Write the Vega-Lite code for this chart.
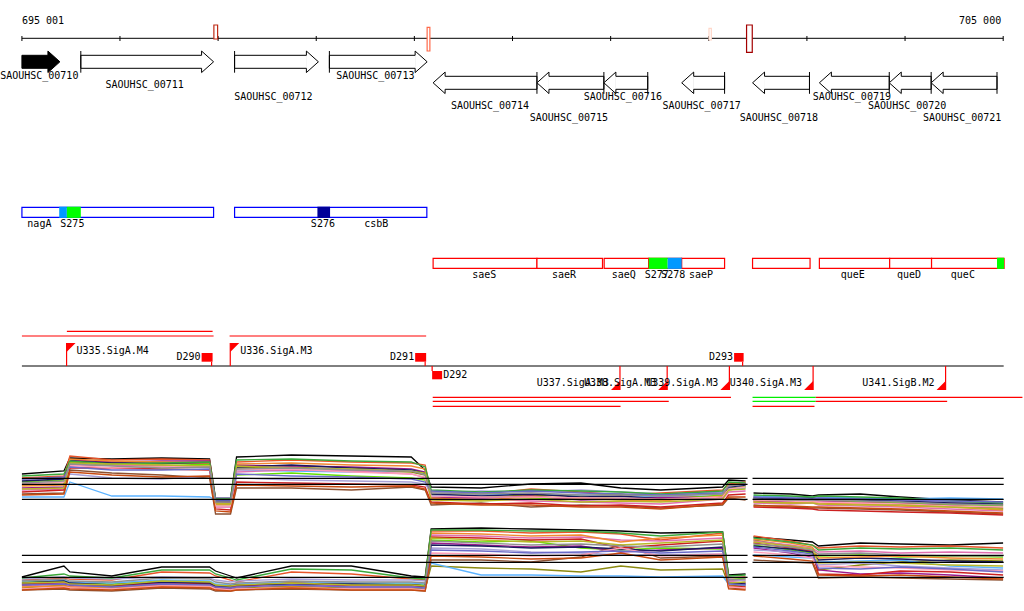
{
"$schema":"https://vega.github.io/schema/vega-lite/v6.json",
"width":1024,"height":611,"padding":0,
"autosize":{"type":"fit","contains":"padding"},
"background":"white",
"config":{"view":{"stroke":null},"axis":{"disable":true},"legend":{"disable":true},"text":{"font":"DejaVu Sans Mono","fontSize":10,"baseline":"middle","color":"black"}},
"resolve":{"scale":{"color":"independent","fill":"independent","stroke":"independent"}},
"encoding":{
 "x":{"field":"x","type":"quantitative","scale":{"domain":[694798,705212],"nice":false,"zero":false},"axis":null},
 "y":{"field":"y","type":"quantitative","scale":{"domain":[611,0],"nice":false,"zero":false},"axis":null}
},
"datasets":{
 "lines":[{"x":695001,"x2":705000,"y":38.3},{"x":695001,"x2":705005,"y":366}],
 "tk":[{"x":695001,"y":36,"y2":41},{"x":696000,"y":36,"y2":41},{"x":697000,"y":36,"y2":41},{"x":698000,"y":36,"y2":41},{"x":699000,"y":36,"y2":41},{"x":700000,"y":36,"y2":41},{"x":701000,"y":36,"y2":41},{"x":702000,"y":36,"y2":41},{"x":703000,"y":36,"y2":41},{"x":704000,"y":36,"y2":41},{"x":705000,"y":36,"y2":41}],
 "am":[{"x":696957,"x2":696995,"y":25,"y2":39,"v":0.85},{"x":699130,"x2":699158,"y":27.3,"y2":51,"v":0.5},{"x":702002,"x2":702026,"y":28.3,"y2":40,"v":0.05},{"x":702385,"x2":702443,"y":25,"y2":52.3,"v":1}],
 "axl":[{"x":695001,"y":20.7,"t":"695 001"}],
 "axr":[{"x":705000,"y":20.7,"t":"705 000"}],
 "gf":[{"name":"SAOUHSC_00710","x":695001,"x2":695388,"hl":"y","y":55.3,"y2":68.3,"yh":61.8,"yt":51,"yt2":72.7},{"name":"SAOUHSC_00711","x":695601,"x2":696954,"hl":"n","y":55.3,"y2":68.3,"yh":61.8,"yt":51,"yt2":72.7},{"name":"SAOUHSC_00712","x":697168,"x2":698022,"hl":"n","y":55.3,"y2":68.3,"yh":61.8,"yt":51,"yt2":72.7},{"name":"SAOUHSC_00713","x":698134,"x2":699130,"hl":"n","y":55.3,"y2":68.3,"yh":61.8,"yt":51,"yt2":72.7}],
 "gr":[{"name":"SAOUHSC_00714","x":699191,"x2":700249,"y":76.3,"y2":89.3,"yh":82.8,"yt":72,"yt2":93.8},{"name":"SAOUHSC_00715","x":700249,"x2":700931,"y":76.3,"y2":89.3,"yh":82.8,"yt":72,"yt2":93.8},{"name":"SAOUHSC_00716","x":700931,"x2":701378,"y":76.3,"y2":89.3,"yh":82.8,"yt":72,"yt2":93.8},{"name":"SAOUHSC_00717","x":701724,"x2":702161,"y":76.3,"y2":89.3,"yh":82.8,"yt":72,"yt2":93.8},{"name":"SAOUHSC_00718","x":702446,"x2":703026,"y":76.3,"y2":89.3,"yh":82.8,"yt":72,"yt2":93.8},{"name":"SAOUHSC_00719","x":703127,"x2":703839,"y":76.3,"y2":89.3,"yh":82.8,"yt":72,"yt2":93.8},{"name":"SAOUHSC_00720","x":703839,"x2":704266,"y":76.3,"y2":89.3,"yh":82.8,"yt":72,"yt2":93.8},{"name":"SAOUHSC_00721","x":704266,"x2":704937,"y":76.3,"y2":89.3,"yh":82.8,"yt":72,"yt2":93.8}],
 "gl":[{"x":695188,"y":76,"t":"SAOUHSC_00710"},{"x":696262,"y":85.3,"t":"SAOUHSC_00711"},{"x":697574,"y":97.3,"t":"SAOUHSC_00712"},{"x":698612,"y":76,"t":"SAOUHSC_00713"},{"x":699781,"y":106,"t":"SAOUHSC_00714"},{"x":700585,"y":117.7,"t":"SAOUHSC_00715"},{"x":701134,"y":97.3,"t":"SAOUHSC_00716"},{"x":701937,"y":106,"t":"SAOUHSC_00717"},{"x":702725,"y":117.7,"t":"SAOUHSC_00718"},{"x":703468,"y":97.3,"t":"SAOUHSC_00719"},{"x":704032,"y":106,"t":"SAOUHSC_00720"},{"x":704592,"y":117.7,"t":"SAOUHSC_00721"}],
 "opp":[{"x":695001,"x2":696954,"y":207.3,"y2":217.3},{"x":697168,"x2":699127,"y":207.3,"y2":217.3}],
 "opm":[{"x":699191,"x2":700249,"y":258.3,"y2":268.3},{"x":700249,"x2":700917,"y":258.3,"y2":268.3},{"x":700934,"x2":701388,"y":258.3,"y2":268.3},{"x":701388,"x2":701724,"y":258.3,"y2":268.3},{"x":701724,"x2":702161,"y":258.3,"y2":268.3},{"x":702446,"x2":703032,"y":258.3,"y2":268.3},{"x":703127,"x2":703843,"y":258.3,"y2":268.3},{"x":703843,"x2":704270,"y":258.3,"y2":268.3},{"x":704270,"x2":705009,"y":258.3,"y2":268.3}],
 "seg":[{"x":695381,"x2":695459,"kind":"c1","y":206.7,"y2":217.9},{"x":695459,"x2":695601,"kind":"c2","y":206.7,"y2":217.9},{"x":698012,"x2":698141,"kind":"c3","y":206.7,"y2":217.9},{"x":701388,"x2":701581,"kind":"c2","y":257.7,"y2":268.9},{"x":701581,"x2":701724,"kind":"c1","y":257.7,"y2":268.9},{"x":704937,"x2":705009,"kind":"c2","y":257.7,"y2":268.9}],
 "ol":[{"x":695179,"y":224.3,"t":"nagA"},{"x":695515,"y":224.3,"t":"S275"},{"x":698068,"y":224.3,"t":"S276"},{"x":698612,"y":224.3,"t":"csbB"},{"x":699713,"y":275.3,"t":"saeS"},{"x":700524,"y":275.3,"t":"saeR"},{"x":701134,"y":275.3,"t":"saeQ"},{"x":701470,"y":275.3,"t":"S277"},{"x":701637,"y":275.3,"t":"S278"},{"x":701921,"y":275.3,"t":"saeP"},{"x":703467,"y":275.3,"t":"queE"},{"x":704040,"y":275.3,"t":"queD"},{"x":704589,"y":275.3,"t":"queC"}],
 "tu":[{"x":695001,"x2":696954,"y":336,"k":"a"},{"x":695459,"x2":696944,"y":331.3,"k":"a"},{"x":697117,"x2":699120,"y":336,"k":"a"},{"x":699187,"x2":702226,"y":397.3,"k":"a"},{"x":699187,"x2":701592,"y":401.3,"k":"a"},{"x":699187,"x2":701101,"y":406.3,"k":"a"},{"x":702446,"x2":703090,"y":397.3,"k":"b"},{"x":703090,"x2":705196,"y":397.3,"k":"a"},{"x":702446,"x2":703090,"y":401.3,"k":"b"},{"x":703090,"x2":704429,"y":401.3,"k":"a"},{"x":702446,"x2":703077,"y":406.3,"k":"a"}],
 "pf":[{"x":695456,"t":"U335.SigA.M4","y":343,"y2":366,"ly":350.7},{"x":697124,"t":"U336.SigA.M3","y":343,"y2":366,"ly":350.7}],
 "pr":[{"x":701095,"t":"U337.SigA.M3","y":390,"y2":366,"ly":383.3},{"x":701576,"t":"U338.SigA.M3","y":390,"y2":366,"ly":383.3},{"x":702210,"t":"U339.SigA.M3","y":390,"y2":366,"ly":383.3},{"x":703063,"t":"U340.SigA.M3","y":390,"y2":366,"ly":383.3},{"x":704413,"t":"U341.SigB.M2","y":390,"y2":366,"ly":383.3}],
 "tf":[{"x":696832,"x2":696944,"t":"D290","y":353,"y2":361.7,"yc":366,"ly":357.3},{"x":699008,"x2":699120,"t":"D291","y":353,"y2":361.7,"yc":366,"ly":357.3},{"x":702258,"x2":702355,"t":"D293","y":353,"y2":361.7,"yc":366,"ly":357.3}],
 "tr":[{"x":699181,"x2":699283,"t":"D292","y":371,"y2":379.3,"yc":366,"ly":375}],
 "th":[{"x":695001,"x2":702395,"y":478.3},{"x":695001,"x2":702395,"y":484.3},{"x":695001,"x2":702395,"y":499.3},{"x":695001,"x2":702395,"y":555.3},{"x":695001,"x2":702395,"y":562.3},{"x":695001,"x2":702395,"y":577.3},{"x":702446,"x2":705005,"y":478.3},{"x":702446,"x2":705005,"y":484.3},{"x":702446,"x2":705005,"y":499.3},{"x":702446,"x2":705005,"y":555.3},{"x":702446,"x2":705005,"y":562.3},{"x":702446,"x2":705005,"y":577.3}],
 "exa":[
{"p":1,"s":0,"x":695001,"y":474},{"p":1,"s":0,"x":695429,"y":471},{"p":1,"s":0,"x":695490,"y":458},{"p":1,"s":0,"x":695917,"y":459},{"p":1,"s":0,"x":696425,"y":458},{"p":1,"s":0,"x":696913,"y":459},{"p":1,"s":0,"x":696974,"y":498},{"p":1,"s":0,"x":697127,"y":498},{"p":1,"s":0,"x":697188,"y":457},{"p":1,"s":0,"x":697747,"y":455},{"p":1,"s":0,"x":698358,"y":456},{"p":1,"s":0,"x":698968,"y":457},{"p":1,"s":0,"x":699110,"y":470},{"p":1,"s":0,"x":699171,"y":487},{"p":1,"s":0,"x":699680,"y":488},{"p":1,"s":0,"x":700188,"y":484},{"p":1,"s":0,"x":700697,"y":483},{"p":1,"s":0,"x":701103,"y":488},{"p":1,"s":0,"x":701510,"y":490},{"p":1,"s":0,"x":702141,"y":487},{"p":1,"s":0,"x":702202,"y":480},{"p":1,"s":0,"x":702375,"y":481},
{"p":1,"s":1,"x":695001,"y":478},{"p":1,"s":1,"x":695429,"y":476},{"p":1,"s":1,"x":695490,"y":456},{"p":1,"s":1,"x":695917,"y":460},{"p":1,"s":1,"x":696425,"y":459},{"p":1,"s":1,"x":696913,"y":460},{"p":1,"s":1,"x":696974,"y":500},{"p":1,"s":1,"x":697127,"y":500},{"p":1,"s":1,"x":697188,"y":462},{"p":1,"s":1,"x":697747,"y":460},{"p":1,"s":1,"x":698358,"y":462},{"p":1,"s":1,"x":698968,"y":463},{"p":1,"s":1,"x":699110,"y":465},{"p":1,"s":1,"x":699171,"y":492},{"p":1,"s":1,"x":699680,"y":494},{"p":1,"s":1,"x":700188,"y":489},{"p":1,"s":1,"x":700697,"y":492},{"p":1,"s":1,"x":701103,"y":495},{"p":1,"s":1,"x":701510,"y":493},{"p":1,"s":1,"x":702141,"y":490},{"p":1,"s":1,"x":702202,"y":484},{"p":1,"s":1,"x":702375,"y":483},
{"p":1,"s":2,"x":695001,"y":485},{"p":1,"s":2,"x":695429,"y":484},{"p":1,"s":2,"x":695490,"y":462},{"p":1,"s":2,"x":695917,"y":463},{"p":1,"s":2,"x":696425,"y":464},{"p":1,"s":2,"x":696913,"y":462},{"p":1,"s":2,"x":696974,"y":503},{"p":1,"s":2,"x":697127,"y":503},{"p":1,"s":2,"x":697188,"y":468},{"p":1,"s":2,"x":697747,"y":467},{"p":1,"s":2,"x":698358,"y":470},{"p":1,"s":2,"x":698968,"y":472},{"p":1,"s":2,"x":699110,"y":475},{"p":1,"s":2,"x":699171,"y":495},{"p":1,"s":2,"x":699680,"y":497},{"p":1,"s":2,"x":700188,"y":495},{"p":1,"s":2,"x":700697,"y":496},{"p":1,"s":2,"x":701103,"y":494},{"p":1,"s":2,"x":701510,"y":498},{"p":1,"s":2,"x":702141,"y":496},{"p":1,"s":2,"x":702202,"y":488},{"p":1,"s":2,"x":702375,"y":486},
{"p":1,"s":3,"x":695001,"y":482},{"p":1,"s":3,"x":695429,"y":480},{"p":1,"s":3,"x":695490,"y":463},{"p":1,"s":3,"x":695917,"y":465},{"p":1,"s":3,"x":696425,"y":466},{"p":1,"s":3,"x":696913,"y":464},{"p":1,"s":3,"x":696974,"y":505},{"p":1,"s":3,"x":697127,"y":505},{"p":1,"s":3,"x":697188,"y":475},{"p":1,"s":3,"x":697747,"y":473},{"p":1,"s":3,"x":698358,"y":476},{"p":1,"s":3,"x":698968,"y":478},{"p":1,"s":3,"x":699110,"y":480},{"p":1,"s":3,"x":699171,"y":494},{"p":1,"s":3,"x":699680,"y":496},{"p":1,"s":3,"x":700188,"y":498},{"p":1,"s":3,"x":700697,"y":499},{"p":1,"s":3,"x":701103,"y":497},{"p":1,"s":3,"x":701510,"y":500},{"p":1,"s":3,"x":702141,"y":495},{"p":1,"s":3,"x":702202,"y":490},{"p":1,"s":3,"x":702375,"y":487},
{"p":1,"s":4,"x":695001,"y":488},{"p":1,"s":4,"x":695429,"y":487},{"p":1,"s":4,"x":695490,"y":460},{"p":1,"s":4,"x":695917,"y":462},{"p":1,"s":4,"x":696425,"y":461},{"p":1,"s":4,"x":696913,"y":461},{"p":1,"s":4,"x":696974,"y":502},{"p":1,"s":4,"x":697127,"y":502},{"p":1,"s":4,"x":697188,"y":465},{"p":1,"s":4,"x":697747,"y":466},{"p":1,"s":4,"x":698358,"y":467},{"p":1,"s":4,"x":698968,"y":469},{"p":1,"s":4,"x":699110,"y":472},{"p":1,"s":4,"x":699171,"y":497},{"p":1,"s":4,"x":699680,"y":498},{"p":1,"s":4,"x":700188,"y":496},{"p":1,"s":4,"x":700697,"y":500},{"p":1,"s":4,"x":701103,"y":499},{"p":1,"s":4,"x":701510,"y":497},{"p":1,"s":4,"x":702141,"y":498},{"p":1,"s":4,"x":702202,"y":486},{"p":1,"s":4,"x":702375,"y":484},
{"p":1,"s":5,"x":695001,"y":497},{"p":1,"s":5,"x":695429,"y":497},{"p":1,"s":5,"x":695490,"y":482},{"p":1,"s":5,"x":695917,"y":496},{"p":1,"s":5,"x":696425,"y":496},{"p":1,"s":5,"x":696913,"y":497},{"p":1,"s":5,"x":696974,"y":500},{"p":1,"s":5,"x":697127,"y":500},{"p":1,"s":5,"x":697188,"y":470},{"p":1,"s":5,"x":697747,"y":471},{"p":1,"s":5,"x":698358,"y":472},{"p":1,"s":5,"x":698968,"y":470},{"p":1,"s":5,"x":699110,"y":474},{"p":1,"s":5,"x":699171,"y":496},{"p":1,"s":5,"x":699680,"y":495},{"p":1,"s":5,"x":700188,"y":494},{"p":1,"s":5,"x":700697,"y":495},{"p":1,"s":5,"x":701103,"y":497},{"p":1,"s":5,"x":701510,"y":496},{"p":1,"s":5,"x":702141,"y":494},{"p":1,"s":5,"x":702202,"y":489},{"p":1,"s":5,"x":702375,"y":488},
{"p":1,"s":6,"x":695001,"y":494},{"p":1,"s":6,"x":695429,"y":493},{"p":1,"s":6,"x":695490,"y":470},{"p":1,"s":6,"x":695917,"y":473},{"p":1,"s":6,"x":696425,"y":475},{"p":1,"s":6,"x":696913,"y":478},{"p":1,"s":6,"x":696974,"y":514},{"p":1,"s":6,"x":697127,"y":514},{"p":1,"s":6,"x":697188,"y":488},{"p":1,"s":6,"x":697747,"y":488},{"p":1,"s":6,"x":698358,"y":490},{"p":1,"s":6,"x":698968,"y":487},{"p":1,"s":6,"x":699110,"y":490},{"p":1,"s":6,"x":699171,"y":505},{"p":1,"s":6,"x":699680,"y":503},{"p":1,"s":6,"x":700188,"y":507},{"p":1,"s":6,"x":700697,"y":505},{"p":1,"s":6,"x":701103,"y":506},{"p":1,"s":6,"x":701510,"y":508},{"p":1,"s":6,"x":702141,"y":505},{"p":1,"s":6,"x":702202,"y":498},{"p":1,"s":6,"x":702375,"y":500},
{"p":1,"s":7,"x":695001,"y":490},{"p":1,"s":7,"x":695429,"y":489},{"p":1,"s":7,"x":695490,"y":466},{"p":1,"s":7,"x":695917,"y":465},{"p":1,"s":7,"x":696425,"y":466},{"p":1,"s":7,"x":696913,"y":467},{"p":1,"s":7,"x":696974,"y":507},{"p":1,"s":7,"x":697127,"y":507},{"p":1,"s":7,"x":697188,"y":472},{"p":1,"s":7,"x":697747,"y":470},{"p":1,"s":7,"x":698358,"y":471},{"p":1,"s":7,"x":698968,"y":474},{"p":1,"s":7,"x":699110,"y":478},{"p":1,"s":7,"x":699171,"y":499},{"p":1,"s":7,"x":699680,"y":499},{"p":1,"s":7,"x":700188,"y":501},{"p":1,"s":7,"x":700697,"y":502},{"p":1,"s":7,"x":701103,"y":503},{"p":1,"s":7,"x":701510,"y":504},{"p":1,"s":7,"x":702141,"y":499},{"p":1,"s":7,"x":702202,"y":492},{"p":1,"s":7,"x":702375,"y":491},
{"p":1,"s":8,"x":695001,"y":480},{"p":1,"s":8,"x":695429,"y":478},{"p":1,"s":8,"x":695490,"y":474},{"p":1,"s":8,"x":695917,"y":478},{"p":1,"s":8,"x":696425,"y":479},{"p":1,"s":8,"x":696913,"y":476},{"p":1,"s":8,"x":696974,"y":498},{"p":1,"s":8,"x":697127,"y":498},{"p":1,"s":8,"x":697188,"y":478},{"p":1,"s":8,"x":697747,"y":480},{"p":1,"s":8,"x":698358,"y":481},{"p":1,"s":8,"x":698968,"y":482},{"p":1,"s":8,"x":699110,"y":484},{"p":1,"s":8,"x":699171,"y":493},{"p":1,"s":8,"x":699680,"y":491},{"p":1,"s":8,"x":700188,"y":492},{"p":1,"s":8,"x":700697,"y":490},{"p":1,"s":8,"x":701103,"y":492},{"p":1,"s":8,"x":701510,"y":494},{"p":1,"s":8,"x":702141,"y":492},{"p":1,"s":8,"x":702202,"y":487},{"p":1,"s":8,"x":702375,"y":485},
{"p":1,"s":9,"x":695001,"y":492},{"p":1,"s":9,"x":695429,"y":490},{"p":1,"s":9,"x":695490,"y":468},{"p":1,"s":9,"x":695917,"y":468},{"p":1,"s":9,"x":696425,"y":469},{"p":1,"s":9,"x":696913,"y":470},{"p":1,"s":9,"x":696974,"y":509},{"p":1,"s":9,"x":697127,"y":510},{"p":1,"s":9,"x":697188,"y":482},{"p":1,"s":9,"x":697747,"y":483},{"p":1,"s":9,"x":698358,"y":484},{"p":1,"s":9,"x":698968,"y":485},{"p":1,"s":9,"x":699110,"y":487},{"p":1,"s":9,"x":699171,"y":502},{"p":1,"s":9,"x":699680,"y":504},{"p":1,"s":9,"x":700188,"y":503},{"p":1,"s":9,"x":700697,"y":506},{"p":1,"s":9,"x":701103,"y":505},{"p":1,"s":9,"x":701510,"y":507},{"p":1,"s":9,"x":702141,"y":503},{"p":1,"s":9,"x":702202,"y":495},{"p":1,"s":9,"x":702375,"y":494},
{"p":1,"s":10,"x":695001,"y":481},{"p":1,"s":10,"x":695429,"y":479},{"p":1,"s":10,"x":695490,"y":461},{"p":1,"s":10,"x":695917,"y":463},{"p":1,"s":10,"x":696425,"y":463},{"p":1,"s":10,"x":696913,"y":463},{"p":1,"s":10,"x":696974,"y":501},{"p":1,"s":10,"x":697127,"y":501},{"p":1,"s":10,"x":697188,"y":467},{"p":1,"s":10,"x":697747,"y":465},{"p":1,"s":10,"x":698358,"y":468},{"p":1,"s":10,"x":698968,"y":470},{"p":1,"s":10,"x":699110,"y":473},{"p":1,"s":10,"x":699171,"y":494},{"p":1,"s":10,"x":699680,"y":496},{"p":1,"s":10,"x":700188,"y":494},{"p":1,"s":10,"x":700697,"y":497},{"p":1,"s":10,"x":701103,"y":496},{"p":1,"s":10,"x":701510,"y":499},{"p":1,"s":10,"x":702141,"y":497},{"p":1,"s":10,"x":702202,"y":487},{"p":1,"s":10,"x":702375,"y":485},
{"p":1,"s":11,"x":695001,"y":486},{"p":1,"s":11,"x":695429,"y":485},{"p":1,"s":11,"x":695490,"y":459},{"p":1,"s":11,"x":695917,"y":461},{"p":1,"s":11,"x":696425,"y":462},{"p":1,"s":11,"x":696913,"y":463},{"p":1,"s":11,"x":696974,"y":504},{"p":1,"s":11,"x":697127,"y":504},{"p":1,"s":11,"x":697188,"y":464},{"p":1,"s":11,"x":697747,"y":463},{"p":1,"s":11,"x":698358,"y":465},{"p":1,"s":11,"x":698968,"y":466},{"p":1,"s":11,"x":699110,"y":469},{"p":1,"s":11,"x":699171,"y":498},{"p":1,"s":11,"x":699680,"y":500},{"p":1,"s":11,"x":700188,"y":497},{"p":1,"s":11,"x":700697,"y":498},{"p":1,"s":11,"x":701103,"y":500},{"p":1,"s":11,"x":701510,"y":501},{"p":1,"s":11,"x":702141,"y":496},{"p":1,"s":11,"x":702202,"y":485},{"p":1,"s":11,"x":702375,"y":482},
{"p":1,"s":12,"x":695001,"y":476},{"p":1,"s":12,"x":695429,"y":474},{"p":1,"s":12,"x":695490,"y":461},{"p":1,"s":12,"x":695917,"y":464},{"p":1,"s":12,"x":696425,"y":463},{"p":1,"s":12,"x":696913,"y":462},{"p":1,"s":12,"x":696974,"y":499},{"p":1,"s":12,"x":697127,"y":499},{"p":1,"s":12,"x":697188,"y":460},{"p":1,"s":12,"x":697747,"y":459},{"p":1,"s":12,"x":698358,"y":461},{"p":1,"s":12,"x":698968,"y":462},{"p":1,"s":12,"x":699110,"y":467},{"p":1,"s":12,"x":699171,"y":490},{"p":1,"s":12,"x":699680,"y":492},{"p":1,"s":12,"x":700188,"y":490},{"p":1,"s":12,"x":700697,"y":491},{"p":1,"s":12,"x":701103,"y":492},{"p":1,"s":12,"x":701510,"y":494},{"p":1,"s":12,"x":702141,"y":491},{"p":1,"s":12,"x":702202,"y":482},{"p":1,"s":12,"x":702375,"y":483},
{"p":1,"s":13,"x":695001,"y":484},{"p":1,"s":13,"x":695429,"y":482},{"p":1,"s":13,"x":695490,"y":465},{"p":1,"s":13,"x":695917,"y":468},{"p":1,"s":13,"x":696425,"y":467},{"p":1,"s":13,"x":696913,"y":466},{"p":1,"s":13,"x":696974,"y":506},{"p":1,"s":13,"x":697127,"y":506},{"p":1,"s":13,"x":697188,"y":470},{"p":1,"s":13,"x":697747,"y":469},{"p":1,"s":13,"x":698358,"y":472},{"p":1,"s":13,"x":698968,"y":474},{"p":1,"s":13,"x":699110,"y":477},{"p":1,"s":13,"x":699171,"y":496},{"p":1,"s":13,"x":699680,"y":497},{"p":1,"s":13,"x":700188,"y":497},{"p":1,"s":13,"x":700697,"y":498},{"p":1,"s":13,"x":701103,"y":498},{"p":1,"s":13,"x":701510,"y":499},{"p":1,"s":13,"x":702141,"y":497},{"p":1,"s":13,"x":702202,"y":489},{"p":1,"s":13,"x":702375,"y":487},
{"p":1,"s":14,"x":695001,"y":489},{"p":1,"s":14,"x":695429,"y":488},{"p":1,"s":14,"x":695490,"y":463},{"p":1,"s":14,"x":695917,"y":464},{"p":1,"s":14,"x":696425,"y":465},{"p":1,"s":14,"x":696913,"y":466},{"p":1,"s":14,"x":696974,"y":503},{"p":1,"s":14,"x":697127,"y":504},{"p":1,"s":14,"x":697188,"y":466},{"p":1,"s":14,"x":697747,"y":468},{"p":1,"s":14,"x":698358,"y":469},{"p":1,"s":14,"x":698968,"y":471},{"p":1,"s":14,"x":699110,"y":473},{"p":1,"s":14,"x":699171,"y":500},{"p":1,"s":14,"x":699680,"y":501},{"p":1,"s":14,"x":700188,"y":499},{"p":1,"s":14,"x":700697,"y":502},{"p":1,"s":14,"x":701103,"y":501},{"p":1,"s":14,"x":701510,"y":502},{"p":1,"s":14,"x":702141,"y":499},{"p":1,"s":14,"x":702202,"y":490},{"p":1,"s":14,"x":702375,"y":489},
{"p":1,"s":15,"x":695001,"y":479},{"p":1,"s":15,"x":695429,"y":477},{"p":1,"s":15,"x":695490,"y":467},{"p":1,"s":15,"x":695917,"y":470},{"p":1,"s":15,"x":696425,"y":470},{"p":1,"s":15,"x":696913,"y":469},{"p":1,"s":15,"x":696974,"y":500},{"p":1,"s":15,"x":697127,"y":500},{"p":1,"s":15,"x":697188,"y":474},{"p":1,"s":15,"x":697747,"y":476},{"p":1,"s":15,"x":698358,"y":477},{"p":1,"s":15,"x":698968,"y":479},{"p":1,"s":15,"x":699110,"y":482},{"p":1,"s":15,"x":699171,"y":491},{"p":1,"s":15,"x":699680,"y":493},{"p":1,"s":15,"x":700188,"y":491},{"p":1,"s":15,"x":700697,"y":493},{"p":1,"s":15,"x":701103,"y":494},{"p":1,"s":15,"x":701510,"y":495},{"p":1,"s":15,"x":702141,"y":493},{"p":1,"s":15,"x":702202,"y":486},{"p":1,"s":15,"x":702375,"y":484},
{"p":1,"s":16,"x":695001,"y":495},{"p":1,"s":16,"x":695429,"y":494},{"p":1,"s":16,"x":695490,"y":472},{"p":1,"s":16,"x":695917,"y":475},{"p":1,"s":16,"x":696425,"y":477},{"p":1,"s":16,"x":696913,"y":476},{"p":1,"s":16,"x":696974,"y":511},{"p":1,"s":16,"x":697127,"y":512},{"p":1,"s":16,"x":697188,"y":485},{"p":1,"s":16,"x":697747,"y":486},{"p":1,"s":16,"x":698358,"y":487},{"p":1,"s":16,"x":698968,"y":486},{"p":1,"s":16,"x":699110,"y":489},{"p":1,"s":16,"x":699171,"y":503},{"p":1,"s":16,"x":699680,"y":505},{"p":1,"s":16,"x":700188,"y":505},{"p":1,"s":16,"x":700697,"y":507},{"p":1,"s":16,"x":701103,"y":507},{"p":1,"s":16,"x":701510,"y":509},{"p":1,"s":16,"x":702141,"y":504},{"p":1,"s":16,"x":702202,"y":497},{"p":1,"s":16,"x":702375,"y":497},
{"p":1,"s":17,"x":695001,"y":483},{"p":1,"s":17,"x":695429,"y":481},{"p":1,"s":17,"x":695490,"y":464},{"p":1,"s":17,"x":695917,"y":466},{"p":1,"s":17,"x":696425,"y":468},{"p":1,"s":17,"x":696913,"y":467},{"p":1,"s":17,"x":696974,"y":502},{"p":1,"s":17,"x":697127,"y":502},{"p":1,"s":17,"x":697188,"y":469},{"p":1,"s":17,"x":697747,"y":468},{"p":1,"s":17,"x":698358,"y":470},{"p":1,"s":17,"x":698968,"y":471},{"p":1,"s":17,"x":699110,"y":475},{"p":1,"s":17,"x":699171,"y":493},{"p":1,"s":17,"x":699680,"y":494},{"p":1,"s":17,"x":700188,"y":493},{"p":1,"s":17,"x":700697,"y":495},{"p":1,"s":17,"x":701103,"y":495},{"p":1,"s":17,"x":701510,"y":496},{"p":1,"s":17,"x":702141,"y":494},{"p":1,"s":17,"x":702202,"y":486},{"p":1,"s":17,"x":702375,"y":484},
{"p":2,"s":0,"x":695001,"y":577},{"p":2,"s":0,"x":695429,"y":566},{"p":2,"s":0,"x":695490,"y":572},{"p":2,"s":0,"x":695917,"y":576},{"p":2,"s":0,"x":696425,"y":567},{"p":2,"s":0,"x":696913,"y":567},{"p":2,"s":0,"x":696974,"y":571},{"p":2,"s":0,"x":697127,"y":576},{"p":2,"s":0,"x":697188,"y":578},{"p":2,"s":0,"x":697747,"y":566},{"p":2,"s":0,"x":698358,"y":566},{"p":2,"s":0,"x":698968,"y":576},{"p":2,"s":0,"x":699110,"y":577},{"p":2,"s":0,"x":699171,"y":529},{"p":2,"s":0,"x":699680,"y":528},{"p":2,"s":0,"x":700188,"y":529},{"p":2,"s":0,"x":700697,"y":530},{"p":2,"s":0,"x":701103,"y":531},{"p":2,"s":0,"x":701510,"y":533},{"p":2,"s":0,"x":702141,"y":532},{"p":2,"s":0,"x":702202,"y":575},{"p":2,"s":0,"x":702375,"y":574},
{"p":2,"s":1,"x":695001,"y":580},{"p":2,"s":1,"x":695429,"y":578},{"p":2,"s":1,"x":695490,"y":579},{"p":2,"s":1,"x":695917,"y":580},{"p":2,"s":1,"x":696425,"y":572},{"p":2,"s":1,"x":696913,"y":573},{"p":2,"s":1,"x":696974,"y":576},{"p":2,"s":1,"x":697127,"y":580},{"p":2,"s":1,"x":697188,"y":582},{"p":2,"s":1,"x":697747,"y":572},{"p":2,"s":1,"x":698358,"y":574},{"p":2,"s":1,"x":698968,"y":579},{"p":2,"s":1,"x":699110,"y":580},{"p":2,"s":1,"x":699171,"y":531},{"p":2,"s":1,"x":699680,"y":531},{"p":2,"s":1,"x":700188,"y":533},{"p":2,"s":1,"x":700697,"y":532},{"p":2,"s":1,"x":701103,"y":534},{"p":2,"s":1,"x":701510,"y":540},{"p":2,"s":1,"x":702141,"y":533},{"p":2,"s":1,"x":702202,"y":578},{"p":2,"s":1,"x":702375,"y":577},
{"p":2,"s":2,"x":695001,"y":588},{"p":2,"s":2,"x":695429,"y":585},{"p":2,"s":2,"x":695490,"y":586},{"p":2,"s":2,"x":695917,"y":587},{"p":2,"s":2,"x":696425,"y":584},{"p":2,"s":2,"x":696913,"y":585},{"p":2,"s":2,"x":696974,"y":588},{"p":2,"s":2,"x":697127,"y":589},{"p":2,"s":2,"x":697188,"y":588},{"p":2,"s":2,"x":697747,"y":586},{"p":2,"s":2,"x":698358,"y":588},{"p":2,"s":2,"x":698968,"y":588},{"p":2,"s":2,"x":699110,"y":589},{"p":2,"s":2,"x":699171,"y":566},{"p":2,"s":2,"x":699680,"y":568},{"p":2,"s":2,"x":700188,"y":569},{"p":2,"s":2,"x":700697,"y":572},{"p":2,"s":2,"x":701103,"y":566},{"p":2,"s":2,"x":701510,"y":570},{"p":2,"s":2,"x":702141,"y":569},{"p":2,"s":2,"x":702202,"y":585},{"p":2,"s":2,"x":702375,"y":586},
{"p":2,"s":3,"x":695001,"y":582},{"p":2,"s":3,"x":695429,"y":581},{"p":2,"s":3,"x":695490,"y":583},{"p":2,"s":3,"x":695917,"y":584},{"p":2,"s":3,"x":696425,"y":581},{"p":2,"s":3,"x":696913,"y":582},{"p":2,"s":3,"x":696974,"y":585},{"p":2,"s":3,"x":697127,"y":586},{"p":2,"s":3,"x":697188,"y":585},{"p":2,"s":3,"x":697747,"y":583},{"p":2,"s":3,"x":698358,"y":584},{"p":2,"s":3,"x":698968,"y":584},{"p":2,"s":3,"x":699110,"y":585},{"p":2,"s":3,"x":699171,"y":540},{"p":2,"s":3,"x":699680,"y":542},{"p":2,"s":3,"x":700188,"y":541},{"p":2,"s":3,"x":700697,"y":548},{"p":2,"s":3,"x":701103,"y":550},{"p":2,"s":3,"x":701510,"y":548},{"p":2,"s":3,"x":702141,"y":549},{"p":2,"s":3,"x":702202,"y":580},{"p":2,"s":3,"x":702375,"y":578},
{"p":2,"s":4,"x":695001,"y":584},{"p":2,"s":4,"x":695429,"y":583},{"p":2,"s":4,"x":695490,"y":584},{"p":2,"s":4,"x":695917,"y":586},{"p":2,"s":4,"x":696425,"y":583},{"p":2,"s":4,"x":696913,"y":583},{"p":2,"s":4,"x":696974,"y":586},{"p":2,"s":4,"x":697127,"y":587},{"p":2,"s":4,"x":697188,"y":586},{"p":2,"s":4,"x":697747,"y":584},{"p":2,"s":4,"x":698358,"y":586},{"p":2,"s":4,"x":698968,"y":586},{"p":2,"s":4,"x":699110,"y":587},{"p":2,"s":4,"x":699171,"y":543},{"p":2,"s":4,"x":699680,"y":545},{"p":2,"s":4,"x":700188,"y":547},{"p":2,"s":4,"x":700697,"y":546},{"p":2,"s":4,"x":701103,"y":552},{"p":2,"s":4,"x":701510,"y":550},{"p":2,"s":4,"x":702141,"y":548},{"p":2,"s":4,"x":702202,"y":582},{"p":2,"s":4,"x":702375,"y":583},
{"p":2,"s":5,"x":695001,"y":581},{"p":2,"s":5,"x":695429,"y":580},{"p":2,"s":5,"x":695490,"y":582},{"p":2,"s":5,"x":695917,"y":583},{"p":2,"s":5,"x":696425,"y":580},{"p":2,"s":5,"x":696913,"y":581},{"p":2,"s":5,"x":696974,"y":584},{"p":2,"s":5,"x":697127,"y":585},{"p":2,"s":5,"x":697188,"y":584},{"p":2,"s":5,"x":697747,"y":582},{"p":2,"s":5,"x":698358,"y":583},{"p":2,"s":5,"x":698968,"y":583},{"p":2,"s":5,"x":699110,"y":584},{"p":2,"s":5,"x":699171,"y":563},{"p":2,"s":5,"x":699680,"y":575},{"p":2,"s":5,"x":700188,"y":575},{"p":2,"s":5,"x":700697,"y":576},{"p":2,"s":5,"x":701103,"y":576},{"p":2,"s":5,"x":701510,"y":577},{"p":2,"s":5,"x":702141,"y":576},{"p":2,"s":5,"x":702202,"y":584},{"p":2,"s":5,"x":702375,"y":585},
{"p":2,"s":6,"x":695001,"y":590},{"p":2,"s":6,"x":695429,"y":589},{"p":2,"s":6,"x":695490,"y":590},{"p":2,"s":6,"x":695917,"y":591},{"p":2,"s":6,"x":696425,"y":588},{"p":2,"s":6,"x":696913,"y":589},{"p":2,"s":6,"x":696974,"y":591},{"p":2,"s":6,"x":697127,"y":591},{"p":2,"s":6,"x":697188,"y":590},{"p":2,"s":6,"x":697747,"y":589},{"p":2,"s":6,"x":698358,"y":590},{"p":2,"s":6,"x":698968,"y":590},{"p":2,"s":6,"x":699110,"y":591},{"p":2,"s":6,"x":699171,"y":560},{"p":2,"s":6,"x":699680,"y":560},{"p":2,"s":6,"x":700188,"y":562},{"p":2,"s":6,"x":700697,"y":557},{"p":2,"s":6,"x":701103,"y":545},{"p":2,"s":6,"x":701510,"y":558},{"p":2,"s":6,"x":702141,"y":556},{"p":2,"s":6,"x":702202,"y":588},{"p":2,"s":6,"x":702375,"y":589},
{"p":2,"s":7,"x":695001,"y":586},{"p":2,"s":7,"x":695429,"y":584},{"p":2,"s":7,"x":695490,"y":586},{"p":2,"s":7,"x":695917,"y":588},{"p":2,"s":7,"x":696425,"y":585},{"p":2,"s":7,"x":696913,"y":586},{"p":2,"s":7,"x":696974,"y":588},{"p":2,"s":7,"x":697127,"y":589},{"p":2,"s":7,"x":697188,"y":587},{"p":2,"s":7,"x":697747,"y":585},{"p":2,"s":7,"x":698358,"y":587},{"p":2,"s":7,"x":698968,"y":587},{"p":2,"s":7,"x":699110,"y":588},{"p":2,"s":7,"x":699171,"y":535},{"p":2,"s":7,"x":699680,"y":536},{"p":2,"s":7,"x":700188,"y":538},{"p":2,"s":7,"x":700697,"y":537},{"p":2,"s":7,"x":701103,"y":540},{"p":2,"s":7,"x":701510,"y":541},{"p":2,"s":7,"x":702141,"y":538},{"p":2,"s":7,"x":702202,"y":581},{"p":2,"s":7,"x":702375,"y":580},
{"p":2,"s":8,"x":695001,"y":579},{"p":2,"s":8,"x":695429,"y":577},{"p":2,"s":8,"x":695490,"y":578},{"p":2,"s":8,"x":695917,"y":579},{"p":2,"s":8,"x":696425,"y":577},{"p":2,"s":8,"x":696913,"y":578},{"p":2,"s":8,"x":696974,"y":580},{"p":2,"s":8,"x":697127,"y":582},{"p":2,"s":8,"x":697188,"y":581},{"p":2,"s":8,"x":697747,"y":579},{"p":2,"s":8,"x":698358,"y":580},{"p":2,"s":8,"x":698968,"y":580},{"p":2,"s":8,"x":699110,"y":581},{"p":2,"s":8,"x":699171,"y":548},{"p":2,"s":8,"x":699680,"y":549},{"p":2,"s":8,"x":700188,"y":552},{"p":2,"s":8,"x":700697,"y":553},{"p":2,"s":8,"x":701103,"y":555},{"p":2,"s":8,"x":701510,"y":555},{"p":2,"s":8,"x":702141,"y":554},{"p":2,"s":8,"x":702202,"y":579},{"p":2,"s":8,"x":702375,"y":581},
{"p":2,"s":9,"x":695001,"y":585},{"p":2,"s":9,"x":695429,"y":582},{"p":2,"s":9,"x":695490,"y":585},{"p":2,"s":9,"x":695917,"y":586},{"p":2,"s":9,"x":696425,"y":582},{"p":2,"s":9,"x":696913,"y":584},{"p":2,"s":9,"x":696974,"y":587},{"p":2,"s":9,"x":697127,"y":588},{"p":2,"s":9,"x":697188,"y":586},{"p":2,"s":9,"x":697747,"y":583},{"p":2,"s":9,"x":698358,"y":585},{"p":2,"s":9,"x":698968,"y":585},{"p":2,"s":9,"x":699110,"y":586},{"p":2,"s":9,"x":699171,"y":537},{"p":2,"s":9,"x":699680,"y":538},{"p":2,"s":9,"x":700188,"y":540},{"p":2,"s":9,"x":700697,"y":539},{"p":2,"s":9,"x":701103,"y":548},{"p":2,"s":9,"x":701510,"y":545},{"p":2,"s":9,"x":702141,"y":541},{"p":2,"s":9,"x":702202,"y":586},{"p":2,"s":9,"x":702375,"y":587},
{"p":2,"s":10,"x":695001,"y":583},{"p":2,"s":10,"x":695429,"y":581},{"p":2,"s":10,"x":695490,"y":583},{"p":2,"s":10,"x":695917,"y":585},{"p":2,"s":10,"x":696425,"y":582},{"p":2,"s":10,"x":696913,"y":583},{"p":2,"s":10,"x":696974,"y":586},{"p":2,"s":10,"x":697127,"y":586},{"p":2,"s":10,"x":697188,"y":585},{"p":2,"s":10,"x":697747,"y":584},{"p":2,"s":10,"x":698358,"y":584},{"p":2,"s":10,"x":698968,"y":585},{"p":2,"s":10,"x":699110,"y":586},{"p":2,"s":10,"x":699171,"y":545},{"p":2,"s":10,"x":699680,"y":546},{"p":2,"s":10,"x":700188,"y":548},{"p":2,"s":10,"x":700697,"y":547},{"p":2,"s":10,"x":701103,"y":549},{"p":2,"s":10,"x":701510,"y":551},{"p":2,"s":10,"x":702141,"y":547},{"p":2,"s":10,"x":702202,"y":583},{"p":2,"s":10,"x":702375,"y":584},
{"p":2,"s":11,"x":695001,"y":587},{"p":2,"s":11,"x":695429,"y":586},{"p":2,"s":11,"x":695490,"y":587},{"p":2,"s":11,"x":695917,"y":588},{"p":2,"s":11,"x":696425,"y":586},{"p":2,"s":11,"x":696913,"y":587},{"p":2,"s":11,"x":696974,"y":589},{"p":2,"s":11,"x":697127,"y":590},{"p":2,"s":11,"x":697188,"y":589},{"p":2,"s":11,"x":697747,"y":587},{"p":2,"s":11,"x":698358,"y":589},{"p":2,"s":11,"x":698968,"y":589},{"p":2,"s":11,"x":699110,"y":590},{"p":2,"s":11,"x":699171,"y":533},{"p":2,"s":11,"x":699680,"y":534},{"p":2,"s":11,"x":700188,"y":536},{"p":2,"s":11,"x":700697,"y":535},{"p":2,"s":11,"x":701103,"y":542},{"p":2,"s":11,"x":701510,"y":538},{"p":2,"s":11,"x":702141,"y":535},{"p":2,"s":11,"x":702202,"y":587},{"p":2,"s":11,"x":702375,"y":588},
{"p":2,"s":12,"x":695001,"y":578},{"p":2,"s":12,"x":695429,"y":574},{"p":2,"s":12,"x":695490,"y":576},{"p":2,"s":12,"x":695917,"y":578},{"p":2,"s":12,"x":696425,"y":570},{"p":2,"s":12,"x":696913,"y":570},{"p":2,"s":12,"x":696974,"y":574},{"p":2,"s":12,"x":697127,"y":578},{"p":2,"s":12,"x":697188,"y":580},{"p":2,"s":12,"x":697747,"y":569},{"p":2,"s":12,"x":698358,"y":570},{"p":2,"s":12,"x":698968,"y":578},{"p":2,"s":12,"x":699110,"y":579},{"p":2,"s":12,"x":699171,"y":530},{"p":2,"s":12,"x":699680,"y":530},{"p":2,"s":12,"x":700188,"y":531},{"p":2,"s":12,"x":700697,"y":531},{"p":2,"s":12,"x":701103,"y":533},{"p":2,"s":12,"x":701510,"y":536},{"p":2,"s":12,"x":702141,"y":532},{"p":2,"s":12,"x":702202,"y":576},{"p":2,"s":12,"x":702375,"y":575},
{"p":2,"s":13,"x":695001,"y":589},{"p":2,"s":13,"x":695429,"y":587},{"p":2,"s":13,"x":695490,"y":588},{"p":2,"s":13,"x":695917,"y":589},{"p":2,"s":13,"x":696425,"y":586},{"p":2,"s":13,"x":696913,"y":586},{"p":2,"s":13,"x":696974,"y":589},{"p":2,"s":13,"x":697127,"y":590},{"p":2,"s":13,"x":697188,"y":589},{"p":2,"s":13,"x":697747,"y":588},{"p":2,"s":13,"x":698358,"y":589},{"p":2,"s":13,"x":698968,"y":589},{"p":2,"s":13,"x":699110,"y":590},{"p":2,"s":13,"x":699171,"y":553},{"p":2,"s":13,"x":699680,"y":554},{"p":2,"s":13,"x":700188,"y":556},{"p":2,"s":13,"x":700697,"y":555},{"p":2,"s":13,"x":701103,"y":548},{"p":2,"s":13,"x":701510,"y":556},{"p":2,"s":13,"x":702141,"y":554},{"p":2,"s":13,"x":702202,"y":587},{"p":2,"s":13,"x":702375,"y":588},
{"p":2,"s":14,"x":695001,"y":583},{"p":2,"s":14,"x":695429,"y":582},{"p":2,"s":14,"x":695490,"y":584},{"p":2,"s":14,"x":695917,"y":585},{"p":2,"s":14,"x":696425,"y":581},{"p":2,"s":14,"x":696913,"y":582},{"p":2,"s":14,"x":696974,"y":585},{"p":2,"s":14,"x":697127,"y":586},{"p":2,"s":14,"x":697188,"y":585},{"p":2,"s":14,"x":697747,"y":583},{"p":2,"s":14,"x":698358,"y":585},{"p":2,"s":14,"x":698968,"y":585},{"p":2,"s":14,"x":699110,"y":586},{"p":2,"s":14,"x":699171,"y":538},{"p":2,"s":14,"x":699680,"y":540},{"p":2,"s":14,"x":700188,"y":542},{"p":2,"s":14,"x":700697,"y":541},{"p":2,"s":14,"x":701103,"y":545},{"p":2,"s":14,"x":701510,"y":543},{"p":2,"s":14,"x":702141,"y":540},{"p":2,"s":14,"x":702202,"y":583},{"p":2,"s":14,"x":702375,"y":582},
{"p":2,"s":15,"x":695001,"y":585},{"p":2,"s":15,"x":695429,"y":584},{"p":2,"s":15,"x":695490,"y":585},{"p":2,"s":15,"x":695917,"y":587},{"p":2,"s":15,"x":696425,"y":584},{"p":2,"s":15,"x":696913,"y":585},{"p":2,"s":15,"x":696974,"y":587},{"p":2,"s":15,"x":697127,"y":588},{"p":2,"s":15,"x":697188,"y":587},{"p":2,"s":15,"x":697747,"y":585},{"p":2,"s":15,"x":698358,"y":587},{"p":2,"s":15,"x":698968,"y":587},{"p":2,"s":15,"x":699110,"y":588},{"p":2,"s":15,"x":699171,"y":550},{"p":2,"s":15,"x":699680,"y":551},{"p":2,"s":15,"x":700188,"y":553},{"p":2,"s":15,"x":700697,"y":552},{"p":2,"s":15,"x":701103,"y":551},{"p":2,"s":15,"x":701510,"y":553},{"p":2,"s":15,"x":702141,"y":551},{"p":2,"s":15,"x":702202,"y":584},{"p":2,"s":15,"x":702375,"y":585},
{"p":2,"s":16,"x":695001,"y":590},{"p":2,"s":16,"x":695429,"y":588},{"p":2,"s":16,"x":695490,"y":589},{"p":2,"s":16,"x":695917,"y":590},{"p":2,"s":16,"x":696425,"y":587},{"p":2,"s":16,"x":696913,"y":588},{"p":2,"s":16,"x":696974,"y":590},{"p":2,"s":16,"x":697127,"y":591},{"p":2,"s":16,"x":697188,"y":590},{"p":2,"s":16,"x":697747,"y":588},{"p":2,"s":16,"x":698358,"y":590},{"p":2,"s":16,"x":698968,"y":590},{"p":2,"s":16,"x":699110,"y":591},{"p":2,"s":16,"x":699171,"y":556},{"p":2,"s":16,"x":699680,"y":557},{"p":2,"s":16,"x":700188,"y":559},{"p":2,"s":16,"x":700697,"y":558},{"p":2,"s":16,"x":701103,"y":553},{"p":2,"s":16,"x":701510,"y":560},{"p":2,"s":16,"x":702141,"y":557},{"p":2,"s":16,"x":702202,"y":589},{"p":2,"s":16,"x":702375,"y":590},
{"p":2,"s":17,"x":695001,"y":581},{"p":2,"s":17,"x":695429,"y":579},{"p":2,"s":17,"x":695490,"y":581},{"p":2,"s":17,"x":695917,"y":582},{"p":2,"s":17,"x":696425,"y":578},{"p":2,"s":17,"x":696913,"y":579},{"p":2,"s":17,"x":696974,"y":582},{"p":2,"s":17,"x":697127,"y":584},{"p":2,"s":17,"x":697188,"y":583},{"p":2,"s":17,"x":697747,"y":581},{"p":2,"s":17,"x":698358,"y":582},{"p":2,"s":17,"x":698968,"y":582},{"p":2,"s":17,"x":699110,"y":583},{"p":2,"s":17,"x":699171,"y":541},{"p":2,"s":17,"x":699680,"y":543},{"p":2,"s":17,"x":700188,"y":545},{"p":2,"s":17,"x":700697,"y":544},{"p":2,"s":17,"x":701103,"y":546},{"p":2,"s":17,"x":701510,"y":547},{"p":2,"s":17,"x":702141,"y":544},{"p":2,"s":17,"x":702202,"y":580},{"p":2,"s":17,"x":702375,"y":579}
 ],
 "exb":[
{"p":1,"s":0,"x":702456,"y":493},{"p":1,"s":0,"x":702832,"y":494},{"p":1,"s":0,"x":703056,"y":496},{"p":1,"s":0,"x":703117,"y":495},{"p":1,"s":0,"x":703544,"y":494},{"p":1,"s":0,"x":703951,"y":497},{"p":1,"s":0,"x":704460,"y":500},{"p":1,"s":0,"x":704999,"y":502},
{"p":1,"s":1,"x":702456,"y":497},{"p":1,"s":1,"x":702832,"y":497},{"p":1,"s":1,"x":703056,"y":498},{"p":1,"s":1,"x":703117,"y":498},{"p":1,"s":1,"x":703544,"y":499},{"p":1,"s":1,"x":703951,"y":500},{"p":1,"s":1,"x":704460,"y":503},{"p":1,"s":1,"x":704999,"y":505},
{"p":1,"s":2,"x":702456,"y":499},{"p":1,"s":2,"x":702832,"y":500},{"p":1,"s":2,"x":703056,"y":501},{"p":1,"s":2,"x":703117,"y":500},{"p":1,"s":2,"x":703544,"y":502},{"p":1,"s":2,"x":703951,"y":503},{"p":1,"s":2,"x":704460,"y":505},{"p":1,"s":2,"x":704999,"y":508},
{"p":1,"s":3,"x":702456,"y":500},{"p":1,"s":3,"x":702832,"y":501},{"p":1,"s":3,"x":703056,"y":499},{"p":1,"s":3,"x":703117,"y":500},{"p":1,"s":3,"x":703544,"y":501},{"p":1,"s":3,"x":703951,"y":502},{"p":1,"s":3,"x":704460,"y":504},{"p":1,"s":3,"x":704999,"y":506},
{"p":1,"s":4,"x":702456,"y":501},{"p":1,"s":4,"x":702832,"y":502},{"p":1,"s":4,"x":703056,"y":500},{"p":1,"s":4,"x":703117,"y":501},{"p":1,"s":4,"x":703544,"y":503},{"p":1,"s":4,"x":703951,"y":504},{"p":1,"s":4,"x":704460,"y":506},{"p":1,"s":4,"x":704999,"y":509},
{"p":1,"s":5,"x":702456,"y":496},{"p":1,"s":5,"x":702832,"y":497},{"p":1,"s":5,"x":703056,"y":497},{"p":1,"s":5,"x":703117,"y":497},{"p":1,"s":5,"x":703544,"y":498},{"p":1,"s":5,"x":703951,"y":499},{"p":1,"s":5,"x":704460,"y":498},{"p":1,"s":5,"x":704999,"y":499},
{"p":1,"s":6,"x":702456,"y":505},{"p":1,"s":6,"x":702832,"y":507},{"p":1,"s":6,"x":703056,"y":508},{"p":1,"s":6,"x":703117,"y":508},{"p":1,"s":6,"x":703544,"y":509},{"p":1,"s":6,"x":703951,"y":510},{"p":1,"s":6,"x":704460,"y":512},{"p":1,"s":6,"x":704999,"y":514},
{"p":1,"s":7,"x":702456,"y":503},{"p":1,"s":7,"x":702832,"y":504},{"p":1,"s":7,"x":703056,"y":503},{"p":1,"s":7,"x":703117,"y":505},{"p":1,"s":7,"x":703544,"y":506},{"p":1,"s":7,"x":703951,"y":507},{"p":1,"s":7,"x":704460,"y":509},{"p":1,"s":7,"x":704999,"y":511},
{"p":1,"s":8,"x":702456,"y":499},{"p":1,"s":8,"x":702832,"y":499},{"p":1,"s":8,"x":703056,"y":500},{"p":1,"s":8,"x":703117,"y":499},{"p":1,"s":8,"x":703544,"y":500},{"p":1,"s":8,"x":703951,"y":501},{"p":1,"s":8,"x":704460,"y":502},{"p":1,"s":8,"x":704999,"y":503},
{"p":1,"s":9,"x":702456,"y":507},{"p":1,"s":9,"x":702832,"y":508},{"p":1,"s":9,"x":703056,"y":509},{"p":1,"s":9,"x":703117,"y":510},{"p":1,"s":9,"x":703544,"y":511},{"p":1,"s":9,"x":703951,"y":512},{"p":1,"s":9,"x":704460,"y":513},{"p":1,"s":9,"x":704999,"y":515},
{"p":1,"s":10,"x":702456,"y":498},{"p":1,"s":10,"x":702832,"y":499},{"p":1,"s":10,"x":703056,"y":498},{"p":1,"s":10,"x":703117,"y":499},{"p":1,"s":10,"x":703544,"y":500},{"p":1,"s":10,"x":703951,"y":501},{"p":1,"s":10,"x":704460,"y":503},{"p":1,"s":10,"x":704999,"y":504},
{"p":1,"s":11,"x":702456,"y":502},{"p":1,"s":11,"x":702832,"y":503},{"p":1,"s":11,"x":703056,"y":502},{"p":1,"s":11,"x":703117,"y":503},{"p":1,"s":11,"x":703544,"y":504},{"p":1,"s":11,"x":703951,"y":506},{"p":1,"s":11,"x":704460,"y":507},{"p":1,"s":11,"x":704999,"y":510},
{"p":1,"s":12,"x":702456,"y":495},{"p":1,"s":12,"x":702832,"y":496},{"p":1,"s":12,"x":703056,"y":497},{"p":1,"s":12,"x":703117,"y":496},{"p":1,"s":12,"x":703544,"y":497},{"p":1,"s":12,"x":703951,"y":498},{"p":1,"s":12,"x":704460,"y":501},{"p":1,"s":12,"x":704999,"y":503},
{"p":1,"s":13,"x":702456,"y":500},{"p":1,"s":13,"x":702832,"y":501},{"p":1,"s":13,"x":703056,"y":502},{"p":1,"s":13,"x":703117,"y":502},{"p":1,"s":13,"x":703544,"y":503},{"p":1,"s":13,"x":703951,"y":504},{"p":1,"s":13,"x":704460,"y":506},{"p":1,"s":13,"x":704999,"y":507},
{"p":1,"s":14,"x":702456,"y":502},{"p":1,"s":14,"x":702832,"y":503},{"p":1,"s":14,"x":703056,"y":503},{"p":1,"s":14,"x":703117,"y":504},{"p":1,"s":14,"x":703544,"y":505},{"p":1,"s":14,"x":703951,"y":505},{"p":1,"s":14,"x":704460,"y":507},{"p":1,"s":14,"x":704999,"y":509},
{"p":1,"s":15,"x":702456,"y":497},{"p":1,"s":15,"x":702832,"y":498},{"p":1,"s":15,"x":703056,"y":499},{"p":1,"s":15,"x":703117,"y":498},{"p":1,"s":15,"x":703544,"y":499},{"p":1,"s":15,"x":703951,"y":500},{"p":1,"s":15,"x":704460,"y":501},{"p":1,"s":15,"x":704999,"y":502},
{"p":1,"s":16,"x":702456,"y":506},{"p":1,"s":16,"x":702832,"y":506},{"p":1,"s":16,"x":703056,"y":507},{"p":1,"s":16,"x":703117,"y":507},{"p":1,"s":16,"x":703544,"y":508},{"p":1,"s":16,"x":703951,"y":509},{"p":1,"s":16,"x":704460,"y":511},{"p":1,"s":16,"x":704999,"y":513},
{"p":1,"s":17,"x":702456,"y":499},{"p":1,"s":17,"x":702832,"y":500},{"p":1,"s":17,"x":703056,"y":500},{"p":1,"s":17,"x":703117,"y":500},{"p":1,"s":17,"x":703544,"y":501},{"p":1,"s":17,"x":703951,"y":502},{"p":1,"s":17,"x":704460,"y":504},{"p":1,"s":17,"x":704999,"y":505},
{"p":2,"s":0,"x":702456,"y":537},{"p":2,"s":0,"x":702832,"y":540},{"p":2,"s":0,"x":703056,"y":542},{"p":2,"s":0,"x":703117,"y":546},{"p":2,"s":0,"x":703544,"y":543},{"p":2,"s":0,"x":703951,"y":544},{"p":2,"s":0,"x":704460,"y":545},{"p":2,"s":0,"x":704999,"y":543},
{"p":2,"s":1,"x":702456,"y":536},{"p":2,"s":1,"x":702832,"y":541},{"p":2,"s":1,"x":703056,"y":545},{"p":2,"s":1,"x":703117,"y":548},{"p":2,"s":1,"x":703544,"y":546},{"p":2,"s":1,"x":703951,"y":547},{"p":2,"s":1,"x":704460,"y":546},{"p":2,"s":1,"x":704999,"y":548},
{"p":2,"s":2,"x":702456,"y":540},{"p":2,"s":2,"x":702832,"y":546},{"p":2,"s":2,"x":703056,"y":552},{"p":2,"s":2,"x":703117,"y":570},{"p":2,"s":2,"x":703544,"y":565},{"p":2,"s":2,"x":703951,"y":562},{"p":2,"s":2,"x":704460,"y":560},{"p":2,"s":2,"x":704999,"y":561},
{"p":2,"s":3,"x":702456,"y":545},{"p":2,"s":3,"x":702832,"y":550},{"p":2,"s":3,"x":703056,"y":553},{"p":2,"s":3,"x":703117,"y":556},{"p":2,"s":3,"x":703544,"y":555},{"p":2,"s":3,"x":703951,"y":557},{"p":2,"s":3,"x":704460,"y":556},{"p":2,"s":3,"x":704999,"y":557},
{"p":2,"s":4,"x":702456,"y":548},{"p":2,"s":4,"x":702832,"y":553},{"p":2,"s":4,"x":703056,"y":557},{"p":2,"s":4,"x":703117,"y":570},{"p":2,"s":4,"x":703544,"y":574},{"p":2,"s":4,"x":703951,"y":573},{"p":2,"s":4,"x":704460,"y":575},{"p":2,"s":4,"x":704999,"y":578},
{"p":2,"s":5,"x":702456,"y":555},{"p":2,"s":5,"x":702832,"y":557},{"p":2,"s":5,"x":703056,"y":558},{"p":2,"s":5,"x":703117,"y":562},{"p":2,"s":5,"x":703544,"y":561},{"p":2,"s":5,"x":703951,"y":560},{"p":2,"s":5,"x":704460,"y":566},{"p":2,"s":5,"x":704999,"y":568},
{"p":2,"s":6,"x":702456,"y":560},{"p":2,"s":6,"x":702832,"y":562},{"p":2,"s":6,"x":703056,"y":563},{"p":2,"s":6,"x":703117,"y":578},{"p":2,"s":6,"x":703544,"y":577},{"p":2,"s":6,"x":703951,"y":578},{"p":2,"s":6,"x":704460,"y":579},{"p":2,"s":6,"x":704999,"y":580},
{"p":2,"s":7,"x":702456,"y":541},{"p":2,"s":7,"x":702832,"y":545},{"p":2,"s":7,"x":703056,"y":548},{"p":2,"s":7,"x":703117,"y":552},{"p":2,"s":7,"x":703544,"y":551},{"p":2,"s":7,"x":703951,"y":553},{"p":2,"s":7,"x":704460,"y":552},{"p":2,"s":7,"x":704999,"y":553},
{"p":2,"s":8,"x":702456,"y":550},{"p":2,"s":8,"x":702832,"y":552},{"p":2,"s":8,"x":703056,"y":556},{"p":2,"s":8,"x":703117,"y":565},{"p":2,"s":8,"x":703544,"y":563},{"p":2,"s":8,"x":703951,"y":566},{"p":2,"s":8,"x":704460,"y":568},{"p":2,"s":8,"x":704999,"y":570},
{"p":2,"s":9,"x":702456,"y":543},{"p":2,"s":9,"x":702832,"y":548},{"p":2,"s":9,"x":703056,"y":551},{"p":2,"s":9,"x":703117,"y":574},{"p":2,"s":9,"x":703544,"y":575},{"p":2,"s":9,"x":703951,"y":571},{"p":2,"s":9,"x":704460,"y":572},{"p":2,"s":9,"x":704999,"y":575},
{"p":2,"s":10,"x":702456,"y":546},{"p":2,"s":10,"x":702832,"y":549},{"p":2,"s":10,"x":703056,"y":552},{"p":2,"s":10,"x":703117,"y":560},{"p":2,"s":10,"x":703544,"y":558},{"p":2,"s":10,"x":703951,"y":559},{"p":2,"s":10,"x":704460,"y":561},{"p":2,"s":10,"x":704999,"y":562},
{"p":2,"s":11,"x":702456,"y":539},{"p":2,"s":11,"x":702832,"y":543},{"p":2,"s":11,"x":703056,"y":547},{"p":2,"s":11,"x":703117,"y":558},{"p":2,"s":11,"x":703544,"y":557},{"p":2,"s":11,"x":703951,"y":556},{"p":2,"s":11,"x":704460,"y":558},{"p":2,"s":11,"x":704999,"y":559},
{"p":2,"s":12,"x":702456,"y":538},{"p":2,"s":12,"x":702832,"y":542},{"p":2,"s":12,"x":703056,"y":545},{"p":2,"s":12,"x":703117,"y":550},{"p":2,"s":12,"x":703544,"y":548},{"p":2,"s":12,"x":703951,"y":549},{"p":2,"s":12,"x":704460,"y":548},{"p":2,"s":12,"x":704999,"y":550},
{"p":2,"s":13,"x":702456,"y":552},{"p":2,"s":13,"x":702832,"y":555},{"p":2,"s":13,"x":703056,"y":558},{"p":2,"s":13,"x":703117,"y":566},{"p":2,"s":13,"x":703544,"y":567},{"p":2,"s":13,"x":703951,"y":568},{"p":2,"s":13,"x":704460,"y":570},{"p":2,"s":13,"x":704999,"y":571},
{"p":2,"s":14,"x":702456,"y":542},{"p":2,"s":14,"x":702832,"y":546},{"p":2,"s":14,"x":703056,"y":549},{"p":2,"s":14,"x":703117,"y":563},{"p":2,"s":14,"x":703544,"y":562},{"p":2,"s":14,"x":703951,"y":563},{"p":2,"s":14,"x":704460,"y":565},{"p":2,"s":14,"x":704999,"y":566},
{"p":2,"s":15,"x":702456,"y":547},{"p":2,"s":15,"x":702832,"y":551},{"p":2,"s":15,"x":703056,"y":554},{"p":2,"s":15,"x":703117,"y":568},{"p":2,"s":15,"x":703544,"y":569},{"p":2,"s":15,"x":703951,"y":567},{"p":2,"s":15,"x":704460,"y":569},{"p":2,"s":15,"x":704999,"y":572},
{"p":2,"s":16,"x":702456,"y":556},{"p":2,"s":16,"x":702832,"y":559},{"p":2,"s":16,"x":703056,"y":561},{"p":2,"s":16,"x":703117,"y":575},{"p":2,"s":16,"x":703544,"y":576},{"p":2,"s":16,"x":703951,"y":575},{"p":2,"s":16,"x":704460,"y":577},{"p":2,"s":16,"x":704999,"y":579},
{"p":2,"s":17,"x":702456,"y":544},{"p":2,"s":17,"x":702832,"y":547},{"p":2,"s":17,"x":703056,"y":550},{"p":2,"s":17,"x":703117,"y":554},{"p":2,"s":17,"x":703544,"y":553},{"p":2,"s":17,"x":703951,"y":555},{"p":2,"s":17,"x":704460,"y":556},{"p":2,"s":17,"x":704999,"y":556}
 ]
},
"layer":[
 {"data":{"name":"exa"},"mark":{"type":"line","strokeWidth":1.3},"encoding":{"color":{"field":"s","type":"nominal","scale":{"domain":[0,1,2,3,4,5,6,7,8,9,10,11,12,13,14,15,16,17],"range":["#000000","#e8542a","#8c8a10","#66e000","#9b1b8c","#5cb3ff","#8c5030","#e070b0","#a8a0d8","#cc2020","#1a1a60","#f08a30","#3aa83a","#ff9fb8","#b8b828","#6a6ac8","#c84a10","#909090"]},"legend":null},"detail":{"field":"p"}}},
 {"data":{"name":"exb"},"mark":{"type":"line","strokeWidth":1.3},"encoding":{"color":{"field":"s","type":"nominal","scale":{"domain":[0,1,2,3,4,5,6,7,8,9,10,11,12,13,14,15,16,17],"range":["#000000","#e8542a","#8c8a10","#66e000","#9b1b8c","#5cb3ff","#8c5030","#e070b0","#a8a0d8","#cc2020","#1a1a60","#f08a30","#3aa83a","#ff9fb8","#b8b828","#6a6ac8","#c84a10","#909090"]},"legend":null},"detail":{"field":"p"}}},
 {"data":{"name":"th"},"mark":{"type":"rule","color":"black","strokeWidth":1.3},"encoding":{"x2":{"field":"x2"}}},
 {"data":{"name":"lines"},"mark":{"type":"rule","color":"black","strokeWidth":1},"encoding":{"x2":{"field":"x2"}}},
 {"data":{"name":"tk"},"mark":{"type":"rule","color":"black","strokeWidth":1},"encoding":{"y2":{"field":"y2"}}},
 {"data":{"name":"am"},"mark":{"type":"rect","fill":"white","strokeWidth":1.2},"encoding":{"x2":{"field":"x2"},"y2":{"field":"y2"},"stroke":{"field":"v","type":"quantitative","scale":{"domain":[0,0.5,1],"range":["#ffe2d8","#ff6a4a","#a30000"]},"legend":null}}},
 {"data":{"name":"axl"},"mark":{"type":"text","align":"left"},"encoding":{"text":{"field":"t"}}},
 {"data":{"name":"axr"},"mark":{"type":"text","align":"right","dx":-2},"encoding":{"text":{"field":"t"}}},
 {"data":{"name":"gf"},"mark":{"type":"rect","stroke":"black","strokeWidth":1,"x2Offset":-11},"encoding":{"x2":{"field":"x2"},"y2":{"field":"y2"},"fill":{"field":"hl","type":"nominal","scale":{"domain":["y","n"],"range":["black","white"]},"legend":null}}},
 {"data":{"name":"gf"},"transform":[{"filter":"datum.hl == 'n'"}],"mark":{"type":"rule","color":"black","strokeWidth":1},"encoding":{"y":{"field":"yt","type":"quantitative","axis":null},"y2":{"field":"yt2"}}},
 {"data":{"name":"gf"},"mark":{"type":"point","shape":"M-1.116,-0.605L-1.116,-1L0,0L-1.116,1L-1.116,0.605","size":462,"filled":true,"stroke":"black","strokeWidth":1,"opacity":1},"encoding":{"x":{"field":"x2","type":"quantitative","axis":null},"y":{"field":"yh","type":"quantitative","axis":null},"fill":{"field":"hl","type":"nominal","scale":{"domain":["y","n"],"range":["black","white"]},"legend":null}}},
 {"data":{"name":"gr"},"mark":{"type":"rect","stroke":"black","strokeWidth":1,"fill":"white","xOffset":11},"encoding":{"x2":{"field":"x2"},"y2":{"field":"y2"}}},
 {"data":{"name":"gr"},"mark":{"type":"rule","color":"black","strokeWidth":1},"encoding":{"x":{"field":"x2","type":"quantitative","axis":null},"y":{"field":"yt","type":"quantitative","axis":null},"y2":{"field":"yt2"}}},
 {"data":{"name":"gr"},"mark":{"type":"point","shape":"M1.116,-0.605L1.116,-1L0,0L1.116,1L1.116,0.605","size":462,"filled":true,"fill":"white","stroke":"black","strokeWidth":1,"opacity":1},"encoding":{"y":{"field":"yh","type":"quantitative","axis":null}}},
 {"data":{"name":"gl"},"mark":{"type":"text","align":"center","dx":-1},"encoding":{"text":{"field":"t"}}},
 {"data":{"name":"opp"},"mark":{"type":"rect","fill":"white","stroke":"#0000ff","strokeWidth":1.2},"encoding":{"x2":{"field":"x2"},"y2":{"field":"y2"}}},
 {"data":{"name":"opm"},"mark":{"type":"rect","fill":"white","stroke":"#ff0000","strokeWidth":1.2},"encoding":{"x2":{"field":"x2"},"y2":{"field":"y2"}}},
 {"data":{"name":"seg"},"mark":{"type":"rect"},"encoding":{"x2":{"field":"x2"},"y2":{"field":"y2"},"fill":{"field":"kind","type":"nominal","scale":{"domain":["c1","c2","c3"],"range":["#0099ff","#00ff00","#000099"]},"legend":null}}},
 {"data":{"name":"ol"},"mark":{"type":"text","align":"center"},"encoding":{"text":{"field":"t"}}},
 {"data":{"name":"tu"},"mark":{"type":"rule","strokeWidth":1.2},"encoding":{"x2":{"field":"x2"},"color":{"field":"k","type":"nominal","scale":{"domain":["a","b"],"range":["#ff0000","#00ee00"]},"legend":null}}},
 {"data":{"name":"pf"},"mark":{"type":"rule","color":"#ff0000","strokeWidth":1.2},"encoding":{"y2":{"field":"y2"}}},
 {"data":{"name":"pf"},"mark":{"type":"point","shape":"M0,0L2,0L0,2Z","size":81,"filled":true,"fill":"#ff0000","strokeWidth":0,"opacity":1}},
 {"data":{"name":"pf"},"mark":{"type":"text","align":"left","dx":10},"encoding":{"y":{"field":"ly","type":"quantitative","axis":null},"text":{"field":"t"}}},
 {"data":{"name":"pr"},"mark":{"type":"rule","color":"#ff0000","strokeWidth":1.2},"encoding":{"y2":{"field":"y2"}}},
 {"data":{"name":"pr"},"mark":{"type":"point","shape":"M0,0L-2,0L0,-2Z","size":81,"filled":true,"fill":"#ff0000","strokeWidth":0,"opacity":1}},
 {"data":{"name":"pr"},"mark":{"type":"text","align":"right","dx":-11},"encoding":{"y":{"field":"ly","type":"quantitative","axis":null},"text":{"field":"t"}}},
 {"data":{"name":"tf"},"mark":{"type":"rect","fill":"#ff0000"},"encoding":{"x2":{"field":"x2"},"y2":{"field":"y2"}}},
 {"data":{"name":"tf"},"mark":{"type":"rule","color":"#ff0000","strokeWidth":1.2,"xOffset":-1},"encoding":{"x":{"field":"x2","type":"quantitative","axis":null},"y":{"field":"y2","type":"quantitative","axis":null},"y2":{"field":"yc"}}},
 {"data":{"name":"tf"},"mark":{"type":"text","align":"right","dx":-1},"encoding":{"y":{"field":"ly","type":"quantitative","axis":null},"text":{"field":"t"}}},
 {"data":{"name":"tr"},"mark":{"type":"rect","fill":"#ff0000"},"encoding":{"x2":{"field":"x2"},"y2":{"field":"y2"}}},
 {"data":{"name":"tr"},"mark":{"type":"rule","color":"#ff0000","strokeWidth":1.2},"encoding":{"y2":{"field":"yc"}}},
 {"data":{"name":"tr"},"mark":{"type":"text","align":"left","dx":1},"encoding":{"x":{"field":"x2","type":"quantitative","axis":null},"y":{"field":"ly","type":"quantitative","axis":null},"text":{"field":"t"}}}
]
}
